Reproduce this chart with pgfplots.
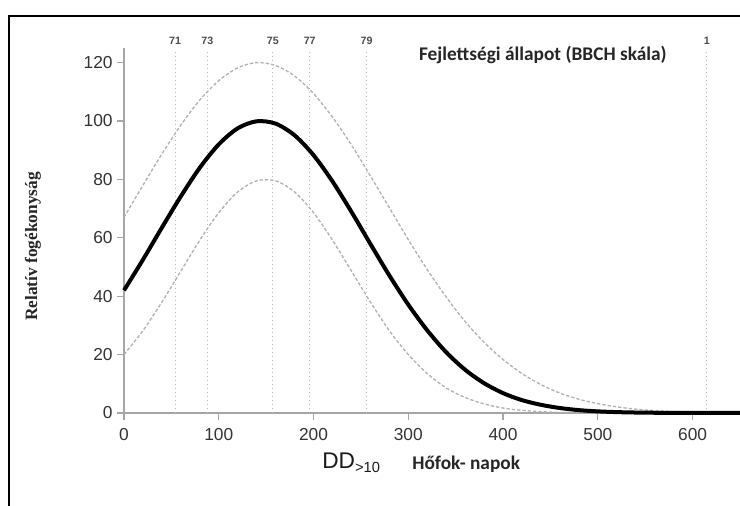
\documentclass[border=0pt]{standalone}
\usepackage{fontspec}
\setmainfont{Liberation Sans}
\newfontfamily\calibri{Carlito}
\newfontfamily\timesfont{Liberation Serif}
\usepackage{pgfplots}
\pgfplotsset{compat=1.18}

\begin{document}
\begin{tikzpicture}
\useasboundingbox (-93pt,-69.75pt) rectangle (462pt,309.75pt);
\begin{axis}[
  at={(0,0)}, anchor=origin,
  scale only axis, width=462pt, height=273.75pt,
  xmin=0, xmax=650, ymin=0, ymax=125,
  axis x line*=bottom, axis y line*=left,
  axis line style={gray!70, line width=0.9pt},
  tick style={gray!70, line width=0.9pt},
  tick align=outside, major tick length=5pt,
  xtick={0,100,...,600}, ytick={0,20,...,120},
  ticklabel style={font=\fontsize{13}{13}\selectfont, text=black!80},
  xticklabel style={yshift=-3pt},
  /pgf/number format/assume math mode=true,
  clip=false,
]
% BBCH stage lines
\addplot[gray!55, line width=0.8pt, dash pattern=on 1pt off 2pt] coordinates {(54,0) (54,124)};
\addplot[gray!55, line width=0.8pt, dash pattern=on 1pt off 2pt] coordinates {(88,0) (88,124)};
\addplot[gray!55, line width=0.8pt, dash pattern=on 1pt off 2pt] coordinates {(157,0) (157,124)};
\addplot[gray!55, line width=0.8pt, dash pattern=on 1pt off 2pt] coordinates {(196,0) (196,124)};
\addplot[gray!55, line width=0.8pt, dash pattern=on 1pt off 2pt] coordinates {(256,0) (256,124)};
\addplot[gray!55, line width=0.8pt, dash pattern=on 1pt off 2pt] coordinates {(615,0) (615,124)};

% upper band
\addplot[gray!60, line width=1pt, dash pattern=on 2.5pt off 1.5pt, smooth] coordinates {
  (0,67.0) (20,78.0) (40,88.7) (60,98.6) (80,107.2) (100,113.8) (120,118.2)
  (140,120.0) (160,119.0) (180,115.4) (200,109.4) (220,101.3) (240,91.8)
  (260,81.2) (280,70.3) (300,59.4) (320,49.1) (340,39.7) (360,31.3) (380,24.2)
  (400,18.3) (420,13.5) (440,9.7) (460,6.8) (480,4.7) (500,3.2) (520,2.1)
  (540,1.3) (560,0.84) (580,0.52) (600,0.31) (620,0.18) (650,0.08)
};
% lower band
\addplot[gray!60, line width=1pt, dash pattern=on 2.5pt off 1.5pt, smooth] coordinates {
  (0,20.0) (20,28.2) (40,38.0) (60,48.6) (80,59.2) (100,68.6) (120,75.7)
  (140,79.5) (160,79.5) (180,75.7) (200,68.6) (220,59.2) (240,48.6)
  (260,38.0) (280,28.2) (300,20.0) (320,13.5) (340,8.6) (360,5.3) (380,3.1)
  (400,1.7) (420,0.9) (440,0.45) (460,0.2) (480,0.1) (500,0.04) (520,0)
};
% mean susceptibility
\addplot[black, line width=3pt, smooth] coordinates {
  (0,42.0) (20,52.5) (40,63.5) (60,74.2) (80,84.0) (100,92.0) (120,97.5)
  (140,99.9) (160,99.1) (180,95.1) (200,88.3) (220,79.3) (240,68.9)
  (260,57.9) (280,47.1) (300,37.1) (320,28.3) (340,20.8) (360,14.8)
  (380,10.2) (400,6.8) (420,4.4) (440,2.8) (460,1.7) (480,0.98) (500,0.55)
  (520,0.30) (540,0.16) (560,0.08) (580,0.04) (600,0.02) (625,0.01) (650,0)
};

\begin{scope}[every node/.style={font=\bfseries\fontsize{8}{8}\selectfont, text=black!70}]
\node at (axis cs:54,127.5) {71};
\node at (axis cs:88,127.5) {73};
\node at (axis cs:157,127.5) {75};
\node at (axis cs:196,127.5) {77};
\node at (axis cs:256,127.5) {79};
\node at (axis cs:615,127.5) {1};
\end{scope}

\node[font=\calibri\bfseries\fontsize{14.5}{14.5}\selectfont, text=black!85] at (axis cs:442,122.7) {Fejlettségi állapot (BBCH skála)};
\node[anchor=base west, inner sep=0pt, font=\fontsize{17}{17}\selectfont, text=black!90] at (axis cs:209,-19) {DD\raisebox{-3pt}{\fontsize{11}{11}\selectfont >10}};
\node[anchor=base west, inner sep=0pt, font=\calibri\bfseries\fontsize{14.5}{14.5}\selectfont, text=black!85] at (axis cs:304,-19.2) {Hőfok- napok};
\node[rotate=90, font=\timesfont\bfseries\fontsize{13}{13}\selectfont, text=black!85] at (axis cs:-96,57) {Relatív fogékonyság};
\end{axis}
\draw[black, line width=1.6pt] (-86.25pt,-80pt) -- (-86.25pt,297.75pt) -- (480pt,297.75pt);
\end{tikzpicture}
\end{document}
